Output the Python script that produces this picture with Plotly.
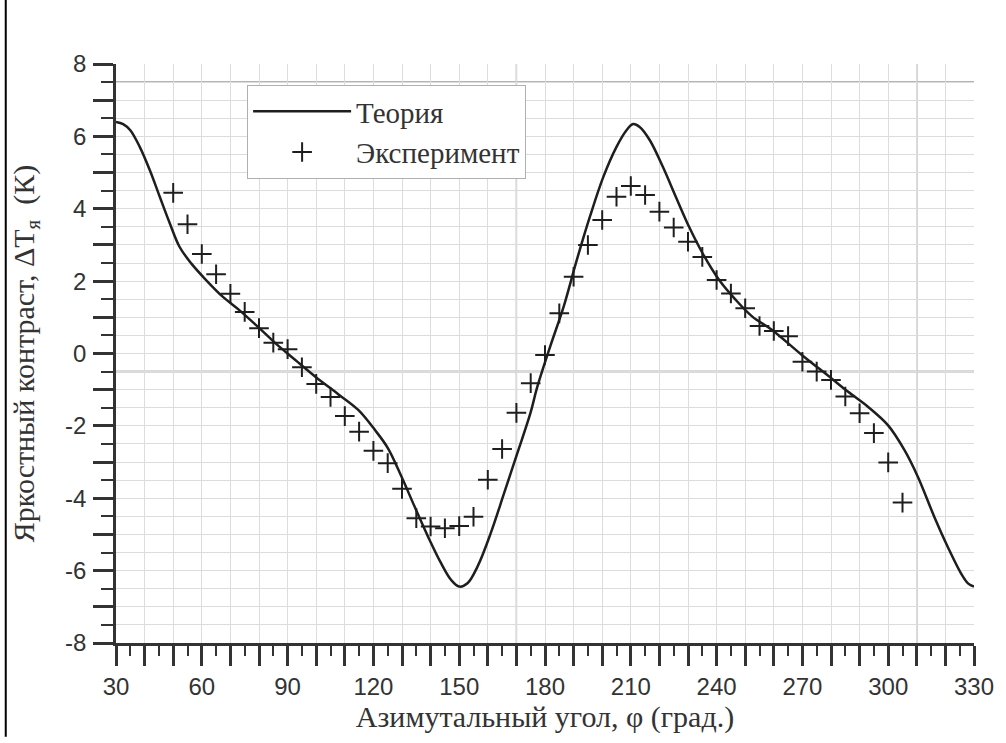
import plotly.graph_objects as go

# Theory curve
theory_phi = [30, 32.5, 35, 38.3, 41.8, 45.3, 48.8, 52.2, 56.3, 61.5, 67.3, 73.1, 78.9, 85.8, 92.7, 99.7,
              107.8, 114.7, 120.5, 125.1, 129.8, 134.4, 139.1, 143.7, 147.2, 150, 152.9, 156.4, 161,
              165.7, 170.3, 174.9, 177.2, 181.8, 186.5, 191.1, 195.7, 200.4, 205, 208.5, 210.8, 213.1,
              216.6, 221.2, 225.8, 230.5, 235.1, 240.9, 246.7, 252.5, 259.4, 269.8, 280.2, 286, 292.9,
              299.9, 305.7, 310.4, 316.1, 320.8, 325.5, 328, 330]
theory_T = [6.40, 6.34, 6.17, 5.71, 5.07, 4.33, 3.60, 2.95, 2.49, 2.03, 1.57, 1.20, 0.79, 0.28, -0.18, -0.64,
            -1.13, -1.56, -2.11, -2.62, -3.40, -4.23, -5.06, -5.80, -6.26, -6.44, -6.35, -5.89, -4.97,
            -3.86, -2.76, -1.65, -0.95, 0.19, 1.29, 2.58, 3.78, 4.88, 5.71, 6.17, 6.34, 6.26,
            5.90, 5.16, 4.32, 3.48, 2.77, 2.03, 1.48, 1.02, 0.65, -0.04, -0.69, -1.06, -1.47,
            -1.98, -2.67, -3.41, -4.51, -5.34, -6.08, -6.36, -6.44]

exp_phi = [50, 55, 60, 65, 70, 75, 80, 85, 90, 95, 100, 105, 110, 115, 120, 125, 130, 135, 140, 145,
           150, 155, 160, 165, 170, 175, 180, 185, 190, 195, 200, 205, 210, 215, 220, 225, 230, 235,
           240, 245, 250, 255, 260, 265, 270, 275, 280, 285, 290, 295, 300, 305]
exp_T = [4.44, 3.57, 2.75, 2.19, 1.65, 1.15, 0.70, 0.30, 0.12, -0.38, -0.84, -1.20, -1.73, -2.16,
         -2.69, -3.03, -3.74, -4.55, -4.78, -4.83, -4.77, -4.51, -3.49, -2.64, -1.64, -0.82, -0.04,
         1.11, 2.12, 3.00, 3.69, 4.33, 4.63, 4.38, 3.92, 3.48, 3.09, 2.67, 2.03, 1.66, 1.25, 0.76,
         0.62, 0.48, -0.23, -0.50, -0.73, -1.19, -1.65, -2.20, -3.01, -4.12]

x_tickvals = list(range(30, 331, 10))
x_ticktext = [str(v) if v % 30 == 0 else "" for v in x_tickvals]
y_tickvals = list(range(-8, 9, 1))
y_ticktext = [str(v) if v % 2 == 0 else "" for v in y_tickvals]

serif = "Liberation Serif"
sans = "Liberation Sans"
ink = "#1e1e1e"
txt = "#333333"
grid = "#dcdcdc"

fig = go.Figure()
fig.add_trace(go.Scatter(x=theory_phi, y=theory_T, mode="lines", name="Теория",
                         line=dict(color=ink, width=2.5, shape="spline", smoothing=1.0)))
fig.add_trace(go.Scatter(x=exp_phi, y=exp_T, mode="markers", name="Эксперимент",
                         marker=dict(symbol="cross-thin", size=14, line=dict(color=ink, width=2))))

# darker overlay grid lines
for xv in [170, 310]:
    fig.add_shape(type="line", xref="x", yref="paper", x0=xv, x1=xv, y0=0, y1=1,
                  line=dict(color="#b4b4b4", width=1.5), layer="below")
for yv in [7.5, -0.5]:
    fig.add_shape(type="line", xref="paper", yref="y", x0=0, x1=1, y0=yv, y1=yv,
                  line=dict(color="#b4b4b4", width=2), layer="below")
# left border line of the figure
fig.add_shape(type="line", xref="paper", yref="paper", x0=-0.1285, x1=-0.1285, y0=-0.162, y1=1.111,
              line=dict(color="#000000", width=2))

fig.update_layout(
    width=1006, height=743,
    margin=dict(l=116, r=26, t=64, b=100),
    plot_bgcolor="white", paper_bgcolor="white",
    showlegend=True,
    legend=dict(x=0.1528, y=0.9637, xanchor="left", yanchor="top",
                bgcolor="white", bordercolor="#b0b0b0", borderwidth=1,
                font=dict(family=serif, size=29, color=txt),
                itemwidth=98, tracegroupgap=0),
    xaxis=dict(range=[30, 330], tickmode="array", tickvals=x_tickvals, ticktext=x_ticktext,
               ticks="outside", ticklen=20, tickwidth=2.5, tickcolor=txt,
               showline=True, linecolor=txt, linewidth=2.5,
               showgrid=True, gridcolor=grid, gridwidth=1.2, zeroline=False,
               minor=dict(dtick=5, tick0=30, ticks="outside", ticklen=10, tickwidth=2,
                          tickcolor=txt, showgrid=False),
               tickfont=dict(family=sans, size=24, color=txt),
               title=dict(text="Азимутальный угол, φ (град.)",
                          font=dict(family=serif, size=30, color=txt), standoff=6)),
    yaxis=dict(range=[-8, 8], tickmode="array", tickvals=y_tickvals, ticktext=y_ticktext,
               ticks="outside", ticklen=20, tickwidth=2.5, tickcolor=txt,
               showline=True, linecolor=txt, linewidth=2.5,
               showgrid=True, gridcolor=grid, gridwidth=1.2, zeroline=False,
               minor=dict(dtick=0.5, tick0=0, ticks="outside", ticklen=12, tickwidth=2,
                          tickcolor=txt, showgrid=True, gridcolor=grid, gridwidth=1.2),
               tickfont=dict(family=sans, size=24, color=txt), ticklabelstandoff=2,
               title=dict(text="Яркостный контраст, ΔT<sub>я</sub>  (К)",
                          font=dict(family=serif, size=30, color=txt), standoff=22)),
)

fig.write_html("out.html")
